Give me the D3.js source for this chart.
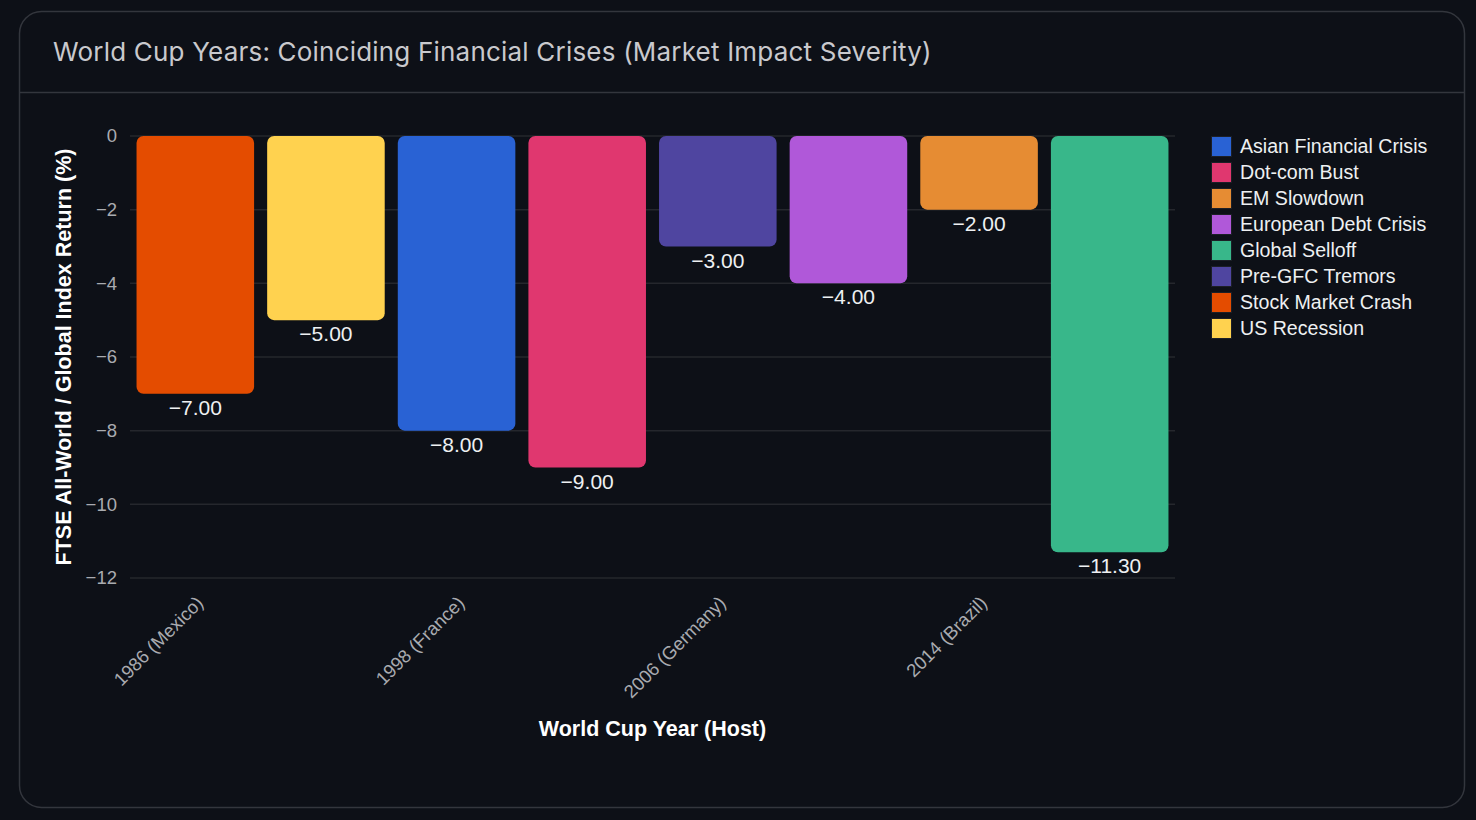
<!DOCTYPE html>
<html>
<head>
<meta charset="utf-8">
<script src="https://cdn.jsdelivr.net/npm/d3@7"></script>
<style>
  html, body { margin: 0; padding: 0; background: #0d1017; }
  #chart { width: 1476px; height: 820px; }
</style>
</head>
<body>
<div id="chart"></div>
<script>
const categories = ["1986 (Mexico)", "1990 (Italy)", "1998 (France)", "2002 (Korea/Japan)",
  "2006 (Germany)", "2010 (South Africa)", "2014 (Brazil)", "2018 (Russia)"];
const crises = ["Stock Market Crash", "US Recession", "Asian Financial Crisis", "Dot-com Bust",
  "Pre-GFC Tremors", "European Debt Crisis", "EM Slowdown", "Global Selloff"];
const returns = [-7.0, -5.0, -8.0, -9.0, -3.0, -4.0, -2.0, -11.3];
const yTicks = [0, -2, -4, -6, -8, -10, -12];

const legendOrder = ["Asian Financial Crisis", "Dot-com Bust", "EM Slowdown", "European Debt Crisis",
  "Global Selloff", "Pre-GFC Tremors", "Stock Market Crash", "US Recession"];
const legendColors = ["#2962d4", "#e0376f", "#e68c33", "#b058d9", "#38b78a", "#4f45a0", "#e44c00", "#ffd24f"];

const width = 1476;
const height = 820;

const svg = d3.select("#chart").append("svg")
  .attr("width", width)
  .attr("height", height);

// card
svg.append("rect")
  .attr("x", 19.5).attr("y", 11.5)
  .attr("width", 1445).attr("height", 796)
  .attr("rx", 22)
  .attr("fill", "#0d1017")
  .attr("stroke", "#33363d")
  .attr("stroke-width", 1.5);

svg.append("line")
  .attr("x1", 20).attr("x2", 1464)
  .attr("y1", 92.5).attr("y2", 92.5)
  .attr("stroke", "#33363d")
  .attr("stroke-width", 1.5);

svg.append("text")
  .attr("x", 53).attr("y", 61)
  .attr("fill", "#c9c9cd")
  .style("font-family", "Inter, 'Noto Sans', sans-serif")
  .style("font-size", "26px")
  .style("letter-spacing", "0.2px")
  .text("World Cup Years: Coinciding Financial Crises (Market Impact Severity)");

const color = d3.scaleOrdinal().domain(legendOrder).range(legendColors);

const x = d3.scaleBand()
  .domain(categories)
  .range([130, 1175])
  .paddingInner(0.1)
  .paddingOuter(0.05);

const y = d3.scaleLinear()
  .domain([-12, 0])
  .range([578, 136]);

// grid
svg.append("g")
  .selectAll("line")
  .data(yTicks)
  .enter()
  .append("line")
  .attr("x1", 130).attr("x2", 1175)
  .attr("y1", (d) => y(d)).attr("y2", (d) => y(d))
  .attr("stroke", "#25272d")
  .attr("stroke-width", 1.5);

// y axis
const yAxis = svg.append("g")
  .attr("transform", "translate(120,0)")
  .call(d3.axisLeft(y).tickValues(yTicks).tickSize(0).tickFormat(d3.format("d")));
yAxis.select(".domain").remove();
yAxis.selectAll("text")
  .attr("fill", "#a9abb0")
  .style("font-family", "'Liberation Sans', Arial, sans-serif")
  .style("font-size", "18.5px");

// x axis (every other label shown)
const xAxis = svg.append("g")
  .attr("transform", "translate(0,578)")
  .call(d3.axisBottom(x).tickSize(0)
    .tickValues(categories.filter((d, i) => i % 2 === 0)));
xAxis.select(".domain").remove();
xAxis.selectAll("text")
  .attr("fill", "#a9abb0")
  .style("font-family", "'Liberation Sans', Arial, sans-serif")
  .style("font-size", "18.5px")
  .attr("text-anchor", "end")
  .attr("dy", "0.3em")
  .attr("transform", "translate(3,20) rotate(-45)");

// bars
const rows = categories.map((c, i) => ({ cat: c, crisis: crises[i], value: returns[i] }));

svg.append("g")
  .selectAll("rect")
  .data(rows)
  .enter()
  .append("rect")
  .attr("x", (d) => x(d.cat))
  .attr("y", y(0))
  .attr("width", x.bandwidth())
  .attr("height", (d) => y(d.value) - y(0))
  .attr("rx", 7)
  .attr("fill", (d) => color(d.crisis));

// value labels
svg.append("g")
  .selectAll("text")
  .data(rows)
  .enter()
  .append("text")
  .attr("x", (d) => x(d.cat) + x.bandwidth() / 2)
  .attr("y", (d) => y(d.value) + 21)
  .attr("text-anchor", "middle")
  .attr("fill", "#eef0f2")
  .style("font-family", "'Liberation Sans', Arial, sans-serif")
  .style("font-size", "21px")
  .text((d) => d3.format(".2f")(d.value).replace("-", "\u2212"));

// axis titles
svg.append("text")
  .attr("transform", `translate(71,${(y(0) + y(-12)) / 2}) rotate(-90)`)
  .attr("text-anchor", "middle")
  .attr("fill", "#ffffff")
  .style("font-family", "'Liberation Sans', Arial, sans-serif")
  .style("font-size", "21.5px")
  .style("font-weight", "bold")
  .text("FTSE All-World / Global Index Return (%)");

svg.append("text")
  .attr("x", (130 + 1175) / 2)
  .attr("y", 736)
  .attr("text-anchor", "middle")
  .attr("fill", "#ffffff")
  .style("font-family", "'Liberation Sans', Arial, sans-serif")
  .style("font-size", "21.5px")
  .style("font-weight", "bold")
  .text("World Cup Year (Host)");

// legend
const legend = svg.append("g")
  .selectAll("g")
  .data(legendOrder)
  .enter()
  .append("g")
  .attr("transform", (d, i) => `translate(1211,${136 + i * 26})`);

legend.append("rect")
  .attr("x", 0.5).attr("y", 0.5)
  .attr("width", 20).attr("height", 20)
  .attr("fill", (d) => color(d))
  .attr("stroke", "#1c1f26")
  .attr("stroke-width", 1);

legend.append("text")
  .attr("x", 29)
  .attr("y", 17)
  .attr("fill", "#eef0f2")
  .style("font-family", "'Liberation Sans', Arial, sans-serif")
  .style("font-size", "19.6px")
  .text((d) => d);
</script>
</body>
</html>
